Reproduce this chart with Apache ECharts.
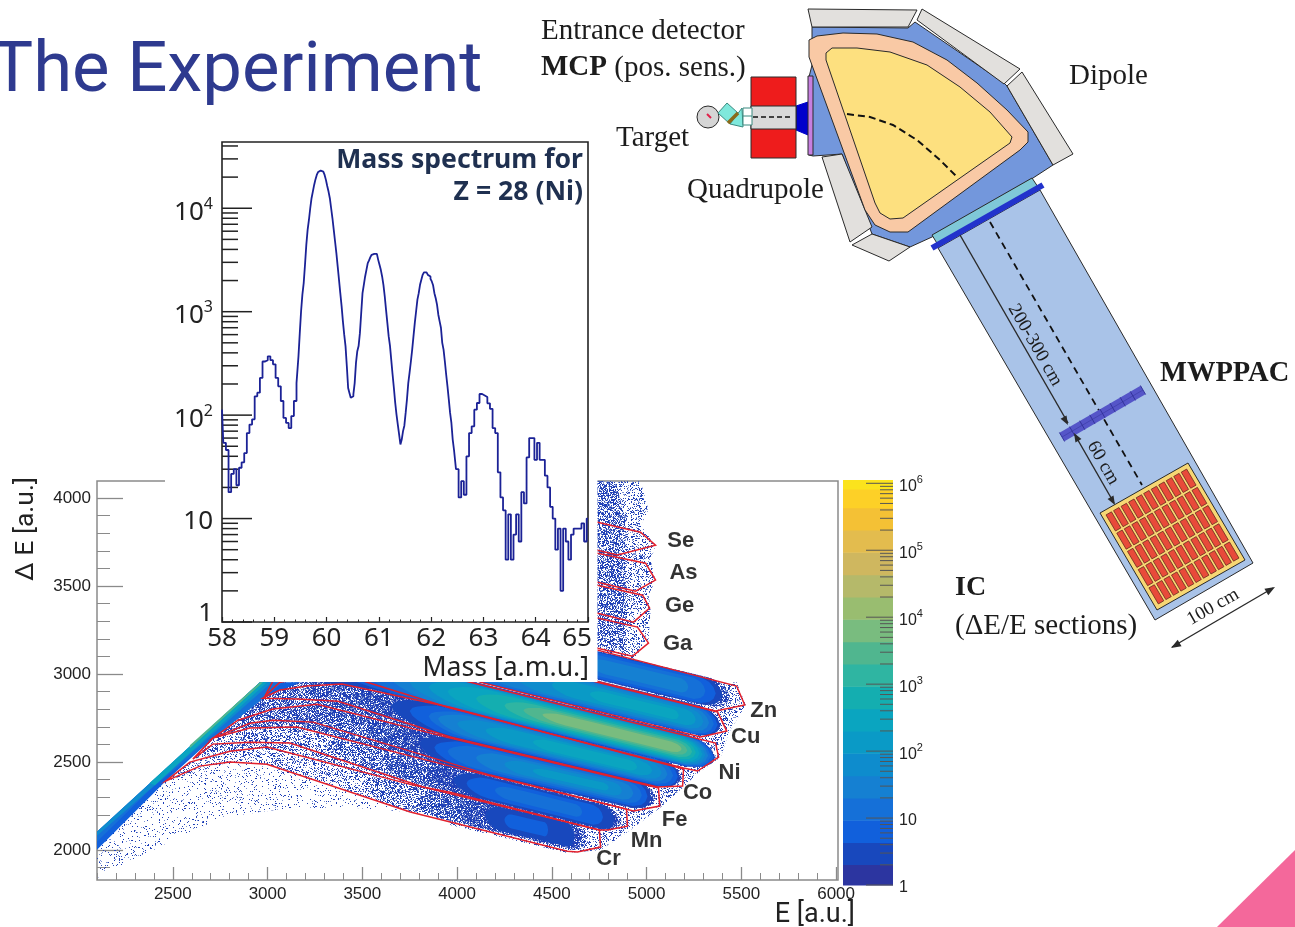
<!DOCTYPE html>
<html><head><meta charset="utf-8">
<style>html,body{margin:0;padding:0;background:#fff}#c{width:1295px;height:927px}</style>
<script src="https://cdn.jsdelivr.net/npm/echarts@6/dist/echarts.min.js"></script>
</head><body><div id="c"></div>
<script>
// ---------- inset: mass spectrum ----------
const massBins = [
58.00,58.05,58.10,58.15,58.20,58.25,58.30,58.35,58.40,58.45,58.50,58.55,58.60,58.65,58.70,58.75,58.80,58.85,58.90,58.95,
59.00,59.05,59.10,59.15,59.20,59.25,59.30,59.35,59.40,
59.45,59.475,59.5,59.525,59.55,59.575,59.6,59.625,59.65,59.675,59.7,59.725,59.75,59.775,59.8,59.825,59.85,59.875,59.9,59.925,59.95,59.975,
60.0,60.025,60.05,60.075,60.1,60.125,60.15,60.175,60.2,60.225,60.25,60.275,60.3,60.325,60.35,60.375,60.4,60.425,60.45,60.475,60.5,
60.525,60.55,60.575,60.6,60.625,60.65,60.675,60.7,60.725,60.75,60.775,60.8,60.825,60.85,60.875,60.9,60.925,60.95,60.975,
61.0,61.025,61.05,61.075,61.1,61.125,61.15,61.175,61.2,61.225,61.25,61.275,61.3,61.325,61.35,61.375,61.4,61.425,
61.45,61.475,61.5,61.525,61.55,61.575,61.6,61.625,61.65,61.675,61.7,61.725,61.75,61.775,61.8,61.825,61.85,61.875,61.9,61.925,61.95,61.975,
62.0,62.025,62.05,62.075,62.1,62.125,62.15,62.175,62.2,62.225,62.25,62.275,62.3,62.325,62.35,62.375,62.4,62.425,
62.45,62.50,62.55,62.60,62.65,62.70,62.75,62.80,62.85,62.90,62.95,
63.00,63.05,63.10,63.15,63.20,63.25,63.30,63.35,63.40,63.45,63.50,63.55,63.60,63.65,63.70,63.75,63.80,63.85,63.90,63.95,
64.00,64.05,64.10,64.15,64.20,64.25,64.30,64.35,64.40,64.45,64.50,64.55,64.60,64.65,64.70,64.75,64.80,64.85,64.90,64.95,65.00];
const massCounts = [
113,54,46,18,27,30,21,31,35,43,67,81,91,152,165,229,330,340,370,340,
310,229,190,137,94,84,75,98,137,
204,370,620,1010,1460,1890,2840,4430,6180,7700,10000,12500,14500,16800,19000,21000,22400,23100,23500,23300,22600,21000,
18800,16400,14500,12500,10000,8000,6180,4770,3680,2740,2040,1510,1130,805,600,465,297,183,164,147,152,
159,204,320,415,465,620,970,1510,1820,2190,2540,2950,3130,3370,3550,3620,3680,3620,3520,
3170,2840,2540,2190,1820,1410,1040,780,580,470,340,247,183,132,101,81,65,52,
58,70,79,105,142,204,257,330,430,580,780,1010,1310,1510,1820,2040,2270,2400,2400,2360,2270,2190,
2080,1960,1800,1510,1350,1170,935,805,700,500,430,330,247,190,142,105,84,58,
46,30,16,23,17,40,67,78,113,131,160,
155,150,130,115,75,67,28,16,12,4,11,4,7,11,6,18,14,39,60,60,
37,54,37,37,26,20,13,10,5,8,2,8,6,4,7,8,8,8,9,6,10];
const logTicksMajor = [1,10,100,1000,10000];
const logTicksMinor = [2,3,4,5,6,7,8,9,20,30,40,50,60,70,80,90,200,300,400,500,600,700,800,900,2000,3000,4000,5000,6000,7000,8000,9000,20000,30000,40000];
// ---------- colour scale ----------
const paletteLevels = ['#2c35a0','#1848bd','#1160dc','#1570d8','#1580d2','#0e8ccd','#0a9ac6','#0aa5c0','#14aeb0','#2fb5a2','#50b68f','#79bc7f','#99bd70','#b5b96a','#cfb75f','#e3bc4e','#f4c135','#fdd027','#fbe31d'];
const colorEdges = [1,2.02,4.3,9.3,20,43,93,200,430,930,2000,4300,9300,20000,43000,93000,200000,430000,820000,1120000];
const barTicksMajor = [1,10,100,1000,10000,100000,1000000];
const barTicksMinor = [2,3,4,5,6,7,8,9,20,30,40,50,60,70,80,90,200,300,400,500,600,700,800,900,2000,3000,4000,5000,6000,7000,8000,9000,20000,30000,40000,50000,60000,70000,80000,90000,200000,300000,400000,500000,600000,700000,800000,900000];
// ---------- main plot axes ----------
const eMajor = [2500,3000,3500,4000,4500,5000,5500,6000];
const eMinor = [2100,2200,2300,2400,2600,2700,2800,2900,3100,3200,3300,3400,3600,3700,3800,3900,4100,4200,4300,4400,4600,4700,4800,4900,5100,5200,5300,5400,5600,5700,5800,5900];
const deMajor = [2000,2500,3000,3500,4000];
const deMinor = [1900,2100,2200,2300,2400,2600,2700,2800,2900,3100,3200,3300,3400,3600,3700,3800,3900];
// ---------- element labels ----------
const elementNames = ['Se','As','Ge','Ga','Zn','Cu','Ni','Co','Fe','Mn','Cr'];
const elementE  = [5180,5195,5174,5164,5618,5523,5438,5269,5148,5000,4799];
const elementDE = [3755,3573,3386,3170,2790,2642,2437,2324,2170,2051,1949];
// ---------- red gates [E, dE] ----------
const gateCr = [[2463,2392],[2643,2477],[2801,2500],[2997,2488],[3753,2216],[4582,1994],[4635,1989],[4757,2017],[4751,2114],[3964,2329],[3768,2369],[2997,2585],[2801,2562],[2590,2500]];
const gateMn = [[2606,2517],[2711,2602],[2907,2613],[3118,2608],[3821,2358],[4751,2114],[4794,2114],[4899,2136],[4894,2233],[3964,2477],[3155,2699],[2907,2693],[2711,2636]];
const gateFe = [[2711,2636],[2907,2721],[3028,2738],[3240,2727],[4175,2426],[4931,2222],[5069,2250],[5063,2352],[3964,2636],[3261,2829],[3028,2801],[2844,2738]];
const gateCo = [[2976,2863],[3155,2858],[3372,2846],[3964,2642],[5058,2358],[5190,2364],[5195,2460],[3964,2812],[3393,2943],[3208,2932],[3065,2909]];
const gateNi = [[2986,2875],[3065,2954],[3383,3011],[3525,2954],[3964,2807],[5195,2466],[5269,2449],[5380,2528],[5364,2608],[4070,2954],[3383,3136],[3065,3034]];
const gateCu = [[5285,2642],[5423,2676],[5375,2784],[4741,2954],[4070,3136],[4070,3022],[4122,2954]];
const gateZn = [[5364,2790],[5518,2824],[5475,2932],[4741,3136],[4122,3306],[4122,3136],[4757,2954]];
const gateGa = [[4741,3318],[4952,3267],[5010,3176],[4926,3102],[4741,3147],[4500,3210],[4500,3380]];
const gateGe = [[4741,3505],[4979,3448],[5016,3375],[4931,3295],[4741,3346],[4500,3410],[4500,3570]];
const gateAs = [[4741,3687],[4995,3630],[5047,3534],[4942,3471],[4741,3522],[4500,3590],[4500,3750]];
const gateSe = [[4741,3863],[4968,3806],[5047,3732],[4847,3676],[4741,3704],[4500,3770],[4500,3925]];
// ---------- sparse-event regions [E, dE] ----------
const sparseLow   = [[2098,1841],[2326,1960],[2500,2057],[2764,2187],[3118,2239],[3472,2239],[3753,2216],[3293,2381],[2997,2488],[2801,2500],[2463,2392],[2098,2028]];
const sparseCr    = [[2463,2392],[2590,2500],[2801,2562],[2997,2585],[3768,2369],[3964,2329],[3964,2170],[3753,2216],[2997,2488],[2801,2500]];
const sparseMn    = [[2606,2517],[2711,2636],[2907,2693],[3155,2699],[3964,2477],[3964,2329],[3768,2369],[2997,2585],[2801,2562]];
const sparseUpper = [[2711,2636],[2976,2863],[3065,2954],[3806,2954],[4228,2625],[4228,2426],[3964,2477],[3155,2699],[2907,2693]];
const sparseHalo  = [[5475,2954],[5523,2824],[5433,2665],[5391,2528],[5269,2437],[5195,2358],[5074,2244],[4915,2114],[4757,2000],[4582,1983],[3964,2142],[3964,2852]];
const sparseTop   = [[4500,4096],[4968,4096],[5010,3931],[4968,3846],[5047,3732],[5021,3647],[5047,3534],[5010,3448],[5021,3363],[5010,3193],[4926,3079],[4500,3136]];
const sparseTopIn = [[4500,4096],[4836,4096],[4889,3874],[4889,3136],[4500,3200]];
// ---------- solid edge ridge at the left [E, dE] ----------
const ridge2 = [[2098,2102],[2960,2954],[3171,2954],[2976,2863],[2711,2636],[2463,2392],[2098,2000]];
const ridge3 = [[2098,2102],[2960,2954],[3081,2954],[2378,2341],[2098,2045]];
const ridge5 = [[2098,2102],[2960,2954],[3023,2954],[2098,2080]];
const ridge7 = [[2378,2381],[2960,2954],[2997,2954],[2405,2369]];
const ridge10 = [[2590,2596],[2960,2954],[2976,2954],[2590,2579]];
// ---------- band centre lines [E, dE] ----------
const spineCr = [[2801,2528],[2997,2540],[3768,2295],[3964,2244],[4704,2057]];
const spineMn = [[2801,2653],[3118,2653],[3964,2403],[4810,2176]];
const spineFe = [[3028,2772],[3240,2778],[3964,2557],[5021,2301]];
const spineCo = [[3171,2897],[3383,2897],[3964,2727],[5153,2420]];
const spineNi = [[3171,3000],[3500,3020],[3964,2897],[5312,2540]];
const spineCu = [[3500,3210],[4070,3051],[5338,2721]];
const spineZn = [[4122,3221],[4757,3045],[5444,2869]];
// ---------- intensity along each centre line: [E from, E to, half width in dE, level]
//            level >= 1: palette level; level < 1: share of filled pixels
const levelsCr = [[3500,4700,78,.5],[3800,4680,78,.75],[4000,4650,75,.9],[4150,4620,68,1],[4250,4480,40,2]];
const levelsMn = [[3300,4870,75,.6],[3600,4860,72,.8],[3850,4850,70,.92],[3980,4830,68,1],[4050,4770,56,2],[4200,4660,36,3]];
const levelsFe = [[3200,5050,85,.7],[3500,5040,85,.85],[3700,5030,84,.93],[3800,5025,82,1],[3880,5005,74,2],[3950,4975,62,3],[4100,4930,50,4],[4250,4870,38,5],[4400,4800,22,6]];
const levelsCo = [[3200,5185,85,.75],[3450,5180,85,.9],[3650,5175,84,1],[3750,5165,78,2],[3850,5140,70,3],[3900,5110,62,4],[4000,5080,52,5],[4150,5030,42,6],[4400,4950,30,7]];
const levelsNi = [[3100,5365,92,.85],[3200,5360,92,1],[3350,5355,90,2],[3500,5340,86,3],[3650,5325,82,4],[3750,5310,78,5],[3850,5295,72,6],[3950,5280,66,7],[4100,5260,58,8],[4250,5240,48,9],[4350,5215,38,10],[4450,5185,28,11]];
const levelsCu = [[3800,5390,86,1],[3800,5375,84,2],[3950,5355,78,3],[4100,5330,68,4],[4300,5300,58,5],[4500,5260,46,6],[4700,5170,30,7]];
const levelsZn = [[4000,5440,82,.8],[4000,5400,80,1],[4200,5365,74,2],[4450,5310,60,3],[4700,5220,40,4]];

// pixel-grain fill textures for the sparse regions (a fill style, not data)
const grainCache={};
function grain(share){
  if(grainCache[share])return grainCache[share];
  const s=173,c=document.createElement('canvas');c.width=c.height=s;
  const g=c.getContext('2d');
  for(let y=0;y<s;y++)for(let x=0;x<s;x++){
    let h=(x*374761393+y*668265263)|0; h=Math.imul(h^(h>>>13),1274126177); h=(h^(h>>>16))>>>0;
    const r=h/4294967296;
    if(r<share){ g.fillStyle=(h&7)<2?'#7f95d6':((h&7)<5?'#2a48b6':'#1a3cb8'); g.fillRect(x,y,1,1); }
  }
  return grainCache[share]={image:c,repeat:'repeat'};
}
const spineAt=(sp,E)=>{ for(let i=0;i<sp.length-1;i++){ if(E<=sp[i+1][0]||i===sp.length-2){ const t=(E-sp[i][0])/(sp[i+1][0]-sp[i][0]); return sp[i][1]+t*(sp[i+1][1]-sp[i][1]); } } };
const taperStops=[0,.01,.03,.06,.1,.16,.24,.34,.5,.7,.85,.93,.97,.99,1];
function bandOutline(sp,lv){
  const up=[],dn=[];
  taperStops.forEach(t=>{
    const E=lv[0]+t*(lv[1]-lv[0]);
    const w=lv[2]*Math.sqrt(Math.min(1,t/.12))*Math.sqrt(Math.min(1,(1-t)/.05));
    const c=spineAt(sp,E);
    up.push([E,c+w]);dn.unshift([E,c-w]);
  });
  return up.concat(dn);
}
const layers=[
 {p:sparseLow,f:grain(.09)},{p:sparseCr,f:grain(.3)},{p:sparseMn,f:grain(.42)},{p:sparseUpper,f:grain(.68)},
 {p:sparseHalo,f:grain(.3)},{p:sparseTop,f:grain(.3)},{p:sparseTopIn,f:grain(.6)},
 {p:ridge2,c:2},{p:ridge3,c:3},{p:ridge5,c:5},{p:ridge7,c:7},{p:ridge10,c:10}
];
[[spineCr,levelsCr],[spineMn,levelsMn],[spineFe,levelsFe],[spineCo,levelsCo],[spineNi,levelsNi],[spineCu,levelsCu],[spineZn,levelsZn]]
 .forEach(([s,l])=>l.forEach(v=>layers.push(v[3]<1?{p:bandOutline(s,v),f:grain(v[3])}:{p:bandOutline(s,v),c:v[3]})));
const gates=[gateCr,gateMn,gateFe,gateCo,gateNi,gateCu,gateZn,gateGa,gateGe,gateAs,gateSe];

// ---------- schematic of the spectrometer (drawn on the page, not data) ----------
const ink='#2a2a2a', serif='"Liberation Serif"';
const dg=[];
const poly=(pts,fill,stroke,lw)=>dg.push({type:'polygon',silent:true,z:5,shape:{points:pts},style:{fill:fill,stroke:stroke||ink,lineWidth:lw==null?1:lw}});
const line=(a,b,col,lw,dash)=>dg.push({type:'line',silent:true,z:5,shape:{x1:a[0],y1:a[1],x2:b[0],y2:b[1]},style:{stroke:col||ink,lineWidth:lw||1.2,lineDash:dash||null}});
const head=(tip,from,size)=>{const dx=tip[0]-from[0],dy=tip[1]-from[1],l=Math.hypot(dx,dy),ux=dx/l,uy=dy/l,s=size||9;
  dg.push({type:'polygon',silent:true,z:5,shape:{points:[tip,[tip[0]-ux*s-uy*s*.38,tip[1]-uy*s+ux*s*.38],[tip[0]-ux*s+uy*s*.38,tip[1]-uy*s-ux*s*.38]]},style:{fill:ink}});};
const txt=(x,y,t,size,o)=>dg.push(Object.assign({type:'text',silent:true,z:5,x:x,y:y,style:{text:t,fill:'#1c1c1c',font:size+'px '+serif,align:'left',verticalAlign:'middle'}},o||{}));

// beam tube
poly([[938,248],[1040,190],[1253,563],[1155,620]],'#a9c3e8');
// yoke
poly([[812,27],[908,28],[915,22],[1004,83],[1007,86],[1053,165],[1033,178],[932,237],[910,247],[872,234],[842,154],[813,156],[809,155],[809,77],[812,65]],'#7397dc');
// coils
poly([[808,9],[917,10],[908,27],[812,27]],'#e2e0dd');
poly([[922,9],[1020,69],[1004,84],[917,20]],'#e2e0dd');
poly([[1022,72],[1073,154],[1053,165],[1007,86]],'#e2e0dd');
poly([[822,157],[842,154],[872,227],[850,242]],'#e2e0dd');
poly([[852,245],[872,234],[910,247],[889,261]],'#e2e0dd');
// pole pieces
poly([[809,40],[817,36],[843,33],[877,34],[913,42],[947,60],[977,83],[1007,110],[1028,132],[1028,142],[1020,150],[908,232],[890,232],[875,225],[865,210],[809,57]],'#f9c9a5');
poly([[826,53],[832,48],[857,48],[890,52],[927,65],[960,87],[990,112],[1012,137],[1010,143],[903,218],[890,219],[880,213],[875,203],[826,60]],'#fde07f');
// entrance
poly([[796,106],[808,102],[808,135],[796,130]],'#0000cc','#0000cc');
poly([[808,76],[813,76],[813,155],[808,155]],'#c77fe0');
poly([[751,77],[796,77],[796,158],[751,158]],'#ee1c1c');
poly([[751,106],[796,106],[796,129],[751,129]],'#d9d9d9');
line([753,117],[792,117],'#111',1.5,[5,3]);
dg.push({type:'circle',silent:true,z:5,shape:{cx:708,cy:117,r:11},style:{fill:'#d5d5d5',stroke:ink,lineWidth:1}});
line([707,114],[711,118],'#e0204a',2);
poly([[718,113],[727,103],[738,113],[730,124]],'#7fe8dc','#3a8a80');
poly([[730,124],[742,108],[743,127]],'#7fe8dc','#3a8a80');
line([728,123],[738,113],'#8a6a1a',3.5);
poly([[743,108],[752,108],[752,125],[743,125]],'#fff','#3a8a80');
line([743,116],[752,116],'#3a8a80',1);
// dashed beam inside the dipole
dg.push({type:'polyline',silent:true,z:5,shape:{points:[[847,114],[870,117],[893,125],[917,140],[940,160],[957,177]]},style:{stroke:'#111',lineWidth:2,lineDash:[7,4],fill:null}});
// exit strips
poly([[932,235],[1032,178],[1038,187],[938,245]],'#7fc8d8');
line([932,248],[1043,185],'#2233cc',6);
line([990,222],[1142,485],'#111',1.8,[7,5]);
// MWPPAC
line([1062,437],[1143,390],'#5555c8',10);
for(let i=0;i<=8;i++){const t=i/8;const cx=1062+t*81,cy=437-t*47;line([cx-2.6,cy-4.5],[cx+2.6,cy+4.5],'#33339a',1);}
line([1062,437],[1143,390],'#33339a',0.5);
// IC
const icA=[1100,513],icB=[1188,463],icD=[1157,610];
poly([[1100,513],[1188,463],[1245,560],[1157,610]],'#f7d774');
for(let r=0;r<5;r++)for(let c=0;c<11;c++){
  const f=(a,b)=>[icA[0]+(.03+.94*a/11)*(icB[0]-icA[0])+(.03+.94*b/5)*(icD[0]-icA[0]),icA[1]+(.03+.94*a/11)*(icB[1]-icA[1])+(.03+.94*b/5)*(icD[1]-icA[1])];
  poly([f(c+.14,r+.06),f(c+.86,r+.06),f(c+.86,r+.94),f(c+.14,r+.94)],'#e84a3a','#6a2a20',.8);
}
// dimension arrows
line([960,235],[1068,423],ink,1.4);head([1068,425],[960,235]);
line([1075,435],[1114,503],ink,1.4);head([1074,433],[1114,503]);head([1115,505],[1075,435]);
line([1172,647],[1273,588],ink,1.4);head([1171,648],[1273,588],10);head([1275,587],[1172,647],10);
// schematic text
txt(541,31,'Entrance detector',29);
dg.push({type:'text',silent:true,z:5,x:541,y:68,style:{text:'{b|MCP} (pos. sens.)',fill:'#1c1c1c',font:'29px '+serif,align:'left',verticalAlign:'middle',rich:{b:{fontFamily:'Liberation Serif',fontWeight:'bold',fontSize:29,fill:'#1c1c1c'}}}});
txt(616,138,'Target',29);
txt(687,190,'Quadrupole',29);
txt(1069,76,'Dipole',29);
dg.push({type:'text',silent:true,z:5,x:1160,y:374,style:{text:'MWPPAC',fill:'#1c1c1c',font:'bold 28.5px '+serif,align:'left',verticalAlign:'middle'}});
dg.push({type:'text',silent:true,z:5,x:955,y:588,style:{text:'IC',fill:'#1c1c1c',font:'bold 28px '+serif,align:'left',verticalAlign:'middle'}});
txt(955,626,'(\u0394E/E sections)',29);
txt(1035,345,'200-300 cm',19,{rotation:-1.05,style:{text:'200-300 cm',fill:'#1c1c1c',font:'19px '+serif,align:'center',verticalAlign:'middle'}});
txt(1103,463,'60 cm',19,{rotation:-1.05,style:{text:'60 cm',fill:'#1c1c1c',font:'19px '+serif,align:'center',verticalAlign:'middle'}});
txt(1213,607,'100 cm',19,{rotation:.52,style:{text:'100 cm',fill:'#1c1c1c',font:'19px '+serif,align:'center',verticalAlign:'middle'}});
// slide furniture
dg.push({type:'text',silent:true,z:5,x:-9,y:73,style:{text:'The Experiment',fill:'#2e3a8f',font:'70.7px Roboto',align:'left',verticalAlign:'middle'}});
dg.push({type:'polygon',silent:true,z:5,shape:{points:[[1217,927],[1295,850],[1295,927]]},style:{fill:'#f4689b'}});
// white panel behind the inset and its captions
dg.push({type:'rect',silent:true,z:10,shape:{x:165,y:120,width:432.5,height:562},style:{fill:'#fff'}});
const sansTxt=(x,y,t,font,fill)=>dg.push({type:'text',silent:true,z:14,x:x,y:y,style:{text:t,fill:fill,font:font,align:'right',verticalAlign:'middle'}});
sansTxt(583,160,'Mass spectrum for','bold 26.6px "Noto Sans"','#1f3050');
sansTxt(583,192,'Z = 28 (Ni)','bold 26.6px "Noto Sans"','#1f3050');
sansTxt(589,668,'Mass [a.m.u.]','26.6px "Noto Sans"','#222');
dg.push({type:'text',silent:true,z:4,x:855,y:915,style:{text:'E [a.u.]',fill:'#222',font:'27px Roboto',align:'right',verticalAlign:'middle'}});
dg.push({type:'text',silent:true,z:4,x:26,y:529,rotation:Math.PI/2,style:{text:'\u0394 E [a.u.]',fill:'#222',font:'26.5px Roboto',align:'center',verticalAlign:'middle'}});

const isDecade=v=>{const e=Math.round(Math.log10(v));return Math.abs(Math.pow(10,e)-v)/v<.005?e:null;};
const axisGrey='#8a8a8a';
const lab={color:'#222',fontFamily:'Liberation Sans',fontSize:17,formatter:v=>String(v)};
const option={
 animation:false,backgroundColor:'#fff',
 grid:[
  {left:97,top:481,width:741,height:399,show:true,borderColor:axisGrey,borderWidth:1.5,backgroundColor:'transparent'},
  {left:222,top:142,width:366,height:480,show:true,borderColor:'#222',borderWidth:1.6,backgroundColor:'transparent',z:11},
  {left:843,top:480,width:50,height:405,show:false}
 ],
 xAxis:[
  {gridIndex:0,type:'value',min:2100,max:6010,position:'bottom',splitLine:{show:false},axisLine:{show:false},
   axisTick:{inside:true,length:13,lineStyle:{color:axisGrey,width:1.3},customValues:eMajor},
   axisLabel:{...lab,margin:6,customValues:eMajor,hideOverlap:false}},
  {gridIndex:0,type:'value',min:2100,max:6010,position:'bottom',splitLine:{show:false},axisLine:{show:false},
   axisTick:{inside:true,length:7,lineStyle:{color:axisGrey,width:1},customValues:eMinor},axisLabel:{show:false}},
  {gridIndex:1,type:'value',min:58,max:65,interval:1,position:'bottom',z:12,splitLine:{show:false},axisLine:{show:false},
   axisTick:{inside:true,length:5,lineStyle:{color:'#222',width:1.2}},
   minorTick:{show:true,splitNumber:5,length:2.5,lineStyle:{color:'#222',width:1}},
   axisLabel:{color:'#222',fontFamily:'Noto Sans',fontSize:26,margin:4,showMaxLabel:true,
     formatter:v=>v===65?'{m|65}':String(v),rich:{m:{color:'#222',fontFamily:'Noto Sans',fontSize:26,padding:[0,22,0,0]}}}},
  {gridIndex:2,type:'value',min:0,max:1,show:false}
 ],
 yAxis:[
  {gridIndex:0,type:'value',min:1830,max:4097,position:'left',splitLine:{show:false},axisLine:{show:false},
   axisTick:{inside:true,length:26,lineStyle:{color:axisGrey,width:1.3},customValues:deMajor},
   axisLabel:{...lab,margin:6,padding:[3,0,0,0],customValues:deMajor}},
  {gridIndex:0,type:'value',min:1830,max:4097,position:'left',splitLine:{show:false},axisLine:{show:false},
   axisTick:{inside:true,length:13,lineStyle:{color:axisGrey,width:1},customValues:deMinor},axisLabel:{show:false}},
  {gridIndex:1,type:'log',logBase:10,min:1,max:43700,position:'left',z:12,splitLine:{show:false},axisLine:{show:false},axisTick:{show:false},
   axisLabel:{margin:9,showMaxLabel:false,formatter:v=>{const e=isDecade(v);if(e===null)return '';return e===0?'{a|1}':e===1?'{t|10}':'{b|10}{s|'+e+'}';},
     rich:{a:{color:'#222',fontFamily:'Noto Sans',fontSize:26,padding:[0,0,16,0]},t:{color:'#222',fontFamily:'Noto Sans',fontSize:26,padding:[6,0,0,0]},b:{color:'#222',fontFamily:'Noto Sans',fontSize:26,padding:[8,0,0,0]},s:{color:'#222',fontFamily:'Noto Sans',fontSize:16,padding:[0,0,8,0]}}}},
  {gridIndex:2,type:'log',logBase:10,min:1,max:1120000,position:'right',splitLine:{show:false},axisLine:{show:false},axisTick:{show:false},
   axisLabel:{margin:6,showMaxLabel:false,formatter:v=>{const e=isDecade(v);if(e===null)return '';return e===0?'{t|1}':e===1?'{t|10}':'{b|10}{s|'+e+'}';},
     rich:{t:{color:'#222',fontFamily:'Liberation Sans',fontSize:16,padding:[6,0,0,0]},b:{color:'#222',fontFamily:'Liberation Sans',fontSize:16,padding:[6,0,0,0]},s:{color:'#222',fontFamily:'Liberation Sans',fontSize:11,padding:[0,0,6,0]}}}}
 ],
 series:[
  {type:'custom',xAxisIndex:0,yAxisIndex:0,z:2,silent:true,clip:true,data:layers.map(l=>l.p[0]),
   renderItem:(p,api)=>{const l=layers[p.dataIndex];return {type:'polygon',shape:{points:l.p.map(q=>api.coord(q))},style:{fill:l.f||paletteLevels[l.c]}};}},
  {type:'custom',xAxisIndex:0,yAxisIndex:0,z:3,silent:true,clip:true,data:gates.map(g=>g[0]),
   renderItem:(p,api)=>({type:'polygon',shape:{points:gates[p.dataIndex].map(q=>api.coord(q))},style:{fill:'none',stroke:'#e2202c',lineWidth:1.5}})},
  {type:'scatter',xAxisIndex:0,yAxisIndex:0,z:4,silent:true,symbolSize:1,itemStyle:{color:'transparent'},
   data:elementNames.map((n,i)=>({name:n,value:[elementE[i],elementDE[i]]})),
   label:{show:true,position:'inside',formatter:'{b}',color:'#000',fontFamily:'Liberation Sans',fontWeight:'bold',fontSize:22}},
  {type:'line',xAxisIndex:2,yAxisIndex:2,z:12,silent:true,step:'middle',symbol:'none',
   lineStyle:{color:'#1b2296',width:1.8},data:massBins.map((m,i)=>[m,massCounts[i]])},
  {type:'custom',xAxisIndex:2,yAxisIndex:2,z:12,silent:true,clip:false,
   data:logTicksMajor.map(v=>[58,v,30]).concat(logTicksMinor.map(v=>[58,v,16])),
   renderItem:(p,api)=>{const c=api.coord([api.value(0),api.value(1)]);return {type:'line',shape:{x1:c[0],y1:c[1],x2:c[0]+api.value(2),y2:c[1]},style:{stroke:'#222',lineWidth:1.5}};}},
  {type:'custom',xAxisIndex:3,yAxisIndex:3,z:2,silent:true,clip:false,data:paletteLevels.map((c,i)=>[0,colorEdges[i]]),
   renderItem:(p,api)=>{const i=p.dataIndex,a=api.coord([0,colorEdges[i]]),b=api.coord([1,colorEdges[i+1]]);return {type:'rect',shape:{x:a[0],y:b[1],width:b[0]-a[0],height:a[1]-b[1]+.5},style:{fill:paletteLevels[i]}};}},
  {type:'custom',xAxisIndex:3,yAxisIndex:3,z:3,silent:true,clip:false,
   data:barTicksMajor.map(v=>[1,v,27]).concat(barTicksMinor.map(v=>[1,v,13])),
   renderItem:(p,api)=>{const c=api.coord([api.value(0),api.value(1)]);return {type:'line',shape:{x1:c[0]-api.value(2),y1:c[1],x2:c[0],y2:c[1]},style:{stroke:'#555',lineWidth:1}};}}
 ],
 graphic:{elements:dg}
};
echarts.init(document.getElementById('c'),null,{renderer:'canvas'}).setOption(option);
</script></body></html>
